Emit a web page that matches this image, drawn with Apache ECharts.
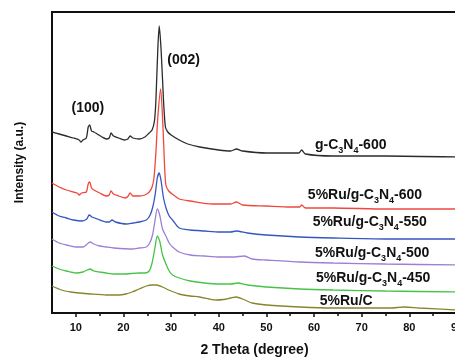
<!DOCTYPE html>
<html>
<head>
<meta charset="utf-8">
<script src="https://cdn.jsdelivr.net/npm/echarts@6/dist/echarts.min.js"></script>
<style>
  html, body { margin: 0; padding: 0; background: #fff; }
  #chart { width: 455px; height: 358px; }
</style>
</head>
<body>
<div id="chart"></div>
<script>
// XRD patterns, stacked with vertical offsets (2θ in degrees, intensity in a.u.)
const majorTicks = [10, 20, 30, 40, 50, 60, 70, 80, 90];
const minorTicks = [15, 25, 35, 45, 55, 65, 75, 85];

const gC3N4_600 = [
  [5,181],[6.5,179],[8,177],[9.5,175],[10.7,173],[11.1,171],[11.5,173],[12.2,175],[12.6,186],[12.9,188],
  [13.3,182],[13.8,181],[14.5,179],[15.5,176],[16.4,174],[17.0,175],[17.4,180],[17.9,177],[19,175],[20.2,173],
  [20.9,174],[21.4,177],[22,175],[23.3,174],[24.5,176],[25.4,180],[26.0,183],[26.5,192],[26.8,212],[27.2,263],
  [27.5,287],[27.9,263],[28.4,213],[28.8,186],[29.3,181],[30,178],[31.7,173],[33.5,169],[36,166],[40,163],
  [42.5,162],[43.7,164],[45,162],[50,160],[55,160],[56.8,160],[57.4,163],[58.2,159],[64,157],[75,157],[90,156]
];
const ru_gC3N4_600 = [
  [5,130],[6.5,126],[8,123],[9.5,121],[10.3,120],[10.7,118],[11.2,120],[12.2,121],[12.6,129],[12.9,131],
  [13.3,125],[13.8,123],[15,120],[16.4,117],[17.0,118],[17.4,122],[17.9,119],[19,117],[20.4,115],[21,117],
  [21.4,120],[22,117],[23.3,117],[24.5,118],[25.4,121],[26.0,126],[26.4,135],[26.8,160],[27.2,195],[27.8,224],
  [28.3,185],[28.6,150],[28.9,128],[29.5,122],[30.5,118],[31.7,114],[34,112],[38.7,109],[42.5,109],[43.7,111],
  [45,108],[50,107],[55,106],[57,106],[57.4,108],[58.2,105],[64,105],[75,104],[90,104]
];
const ru_gC3N4_550 = [
  [5,101],[6.5,97],[8,95],[9.5,93],[11.3,92],[12.3,94],[12.8,98],[13.4,96],[14.5,94],[16.4,91],
  [17.0,91],[17.6,93],[18.3,91],[20.6,89],[22,90],[23.3,91],[24.8,93],[25.6,98],[26.2,107],[26.7,120],
  [27.1,135],[27.5,140],[27.9,132],[28.4,115],[29,104],[29.6,97],[30.3,93],[31.7,85],[34,83],[37,82],
  [40.2,81],[42.5,81],[43.7,82],[46,80],[50,78],[57,76],[64,75],[75,74],[90,74]
];
const ru_gC3N4_500 = [
  [5,74],[6.5,70],[8,68],[10,66],[11.5,66],[12.4,69],[13,71],[13.8,69],[15,67],[16.4,66],
  [18,65],[21.8,64],[23.3,65],[24.8,66],[25.5,70],[26.1,78],[26.6,92],[27.1,104],[27.6,98],[28.2,84],
  [29,76],[29.6,70],[30.3,66],[31.7,61],[34,58],[37,57],[40.2,56],[43,56],[45.4,57],[47,54],
  [50,53],[57,51],[64,50],[75,49],[90,48]
];
const ru_gC3N4_450 = [
  [5,47],[6.5,44],[8,42],[10,40],[11.5,41],[12.4,43],[13,44],[13.8,42],[15,41],[16.4,40],
  [18,39],[20,39],[23.3,40],[24.5,40],[25.4,42],[26,50],[26.6,65],[27.1,77],[27.6,72],[28.2,58],
  [29,48],[29.6,42],[30.3,38],[31.7,35],[34,32],[37,30],[40.2,29],[42.5,29],[44,30],[46,28],
  [50,26],[57,24],[64,23],[75,22],[90,21]
];
const ru_C = [
  [5,27],[7,23],[9,21],[10.7,20],[13,19],[16.4,18],[19,18],[20.5,19],[21.8,21],[23.3,24],
  [24.8,27],[26,28],[27,28],[28.2,26],[29.5,23],[31.7,19],[34,17],[36,16],[38,14],[39.5,13],
  [41,13.5],[42.5,15],[43.7,16],[45,14],[47,10],[50,8],[57,6],[64,5],[70,5],[76,5],
  [79,6],[82,5],[90,3]
];

const FONT = '"Liberation Sans", Arial, sans-serif';

const curves = [
  { name: 'g-C3N4-600',         data: gC3N4_600,     color: '#2b2b2b', text: 'g-C{s|3}N{s|4}-600',        at: [60.2, 168] },
  { name: '5%Ru/g-C3N4-600',    data: ru_gC3N4_600,  color: '#f0473c', text: '5%Ru/g-C{s|3}N{s|4}-600',   at: [58.7, 118] },
  { name: '5%Ru/g-C3N4-550',    data: ru_gC3N4_550,  color: '#3556c0', text: '5%Ru/g-C{s|3}N{s|4}-550',   at: [59.7, 91] },
  { name: '5%Ru/g-C3N4-500',    data: ru_gC3N4_500,  color: '#9a80d6', text: '5%Ru/g-C{s|3}N{s|4}-500',   at: [60.2, 60] },
  { name: '5%Ru/g-C3N4-450',    data: ru_gC3N4_450,  color: '#46c346', text: '5%Ru/g-C{s|3}N{s|4}-450',   at: [60.4, 35] },
  { name: '5%Ru/C',             data: ru_C,          color: '#85862c', text: '5%Ru/C',                    at: [61.2, 12] }
];

const labelStyle = {
  show: true,
  position: 'right',
  distance: 0,
  color: '#111',
  fontFamily: FONT,
  fontWeight: 'bold',
  fontSize: 14,
  lineHeight: 20,
  rich: {
    s: { fontFamily: FONT, fontWeight: 'bold', fontSize: 9, lineHeight: 9, verticalAlign: 'bottom', color: '#111' }
  }
};

function markFor(text, coord) {
  return {
    coord: coord,
    symbol: 'circle',
    symbolSize: 0,
    label: Object.assign({}, labelStyle, { formatter: text })
  };
}

const series = curves.map((c, i) => {
  const points = [markFor(c.text, c.at)];
  if (i === 0) {
    // reflection indices of graphitic carbon nitride
    points.push(markFor('(002)', [29.2, 253]));
    points.push(markFor('(100)', [9.1, 205]));
  }
  return {
    name: c.name,
    type: 'line',
    data: c.data,
    showSymbol: false,
    smooth: 0.25,
    lineStyle: { color: c.color, width: 1.3 },
    itemStyle: { color: c.color },
    z: 10 - i,
    markPoint: { silent: true, data: points, animation: false }
  };
});

const chart = echarts.init(document.getElementById('chart'), null, { renderer: 'canvas' });
chart.setOption({
  animation: false,
  backgroundColor: '#fff',
  grid: {
    left: 52, right: -2, top: 12, bottom: 45,
    outerBoundsMode: 'none',
    containLabel: false,
    show: true, borderColor: '#111', borderWidth: 2, backgroundColor: 'transparent'
  },
  xAxis: [
    {
      type: 'value', min: 5, max: 90,
      name: '2 Theta (degree)', nameLocation: 'middle', nameGap: 30,
      nameTextStyle: { fontFamily: FONT, fontWeight: 'bold', fontSize: 14, color: '#111' },
      axisLine: { lineStyle: { color: '#111', width: 2 } },
      axisTick: { show: true, length: 4, lineStyle: { color: '#111', width: 1.5 }, customValues: majorTicks },
      axisLabel: { customValues: majorTicks, margin: 9, fontFamily: FONT, fontWeight: 'bold', fontSize: 11, color: '#111' },
      splitLine: { show: false }
    },
    {
      type: 'value', min: 5, max: 90, position: 'bottom',
      axisLine: { show: false },
      axisTick: { show: true, length: 3, lineStyle: { color: '#111', width: 1.5 }, customValues: minorTicks },
      axisLabel: { show: false },
      splitLine: { show: false }
    }
  ],
  yAxis: {
    type: 'value', min: 0, max: 301,
    name: 'Intensity (a.u.)', nameLocation: 'middle', nameGap: 26,
    nameTextStyle: { fontFamily: FONT, fontWeight: 'bold', fontSize: 12, color: '#111' },
    axisLine: { show: true, lineStyle: { color: '#111', width: 2 } },
    axisTick: { show: false },
    axisLabel: { show: false },
    splitLine: { show: false }
  },
  series: series
});
</script>
</body>
</html>
